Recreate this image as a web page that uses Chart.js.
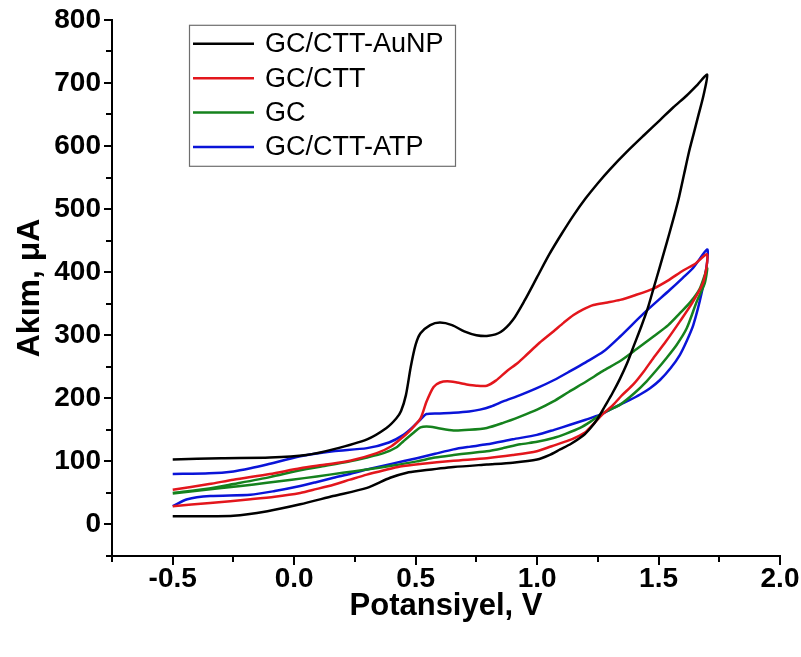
<!DOCTYPE html>
<html><head><meta charset="utf-8">
<script src="https://cdn.jsdelivr.net/npm/chart.js@4.4.0/dist/chart.umd.min.js"></script>
<style>html,body{margin:0;padding:0;background:#fff}</style>
</head><body>
<canvas id="c" width="801" height="657"></canvas>
<script>
// ---- data (potential V, current µA), full loop: forward branch then reverse branch ----
const seriesNames = ["GC/CTT-AuNP", "GC/CTT", "GC", "GC/CTT-ATP"];
const seriesColors = ["#000000", "#e3161c", "#15821d", "#0a14d8"];

const auV = [-0.5,-0.3,-0.1,0.05,0.16,0.30,0.38,0.42,0.44,0.46,0.48,0.50,0.52,0.56,0.60,0.65,0.70,0.75,0.80,0.85,0.90,0.95,1.0,1.05,1.1,1.15,1.2,1.25,1.3,1.37,1.44,1.506,1.56,1.616,1.66,1.70,
  1.685,1.665,1.645,1.625,1.605,1.585,1.565,1.545,1.525,1.505,1.48,1.455,1.43,1.40,1.37,1.34,1.31,1.28,1.25,1.22,1.19,1.14,1.095,1.05,1.0,0.9,0.793,0.656,0.52,0.464,0.395,0.30,0.16,0.025,-0.11,-0.25,-0.5];
const auI = [103,105,106,110,119,135,153,168,180,205,250,285,303,316,320,316,306,300,299,305,324,356,392,428,460,490,517,541,563,591,617,641,661,680,697,713,
  680,650,620,590,555,520,490,462,435,408,375,342,315,285,255,230,208,188,168,153,141,128,119,110,103,98,95,91,85,82,74,58,45,32,21,14,13];

const cttV = [-0.5,-0.35,-0.25,-0.1,0.025,0.13,0.23,0.34,0.40,0.44,0.48,0.52,0.545,0.574,0.60,0.63,0.67,0.71,0.75,0.793,0.83,0.875,0.92,0.957,1.01,1.067,1.11,1.15,1.19,1.232,1.29,1.342,1.40,1.479,1.54,1.603,1.65,1.70,
  1.685,1.64,1.588,1.53,1.479,1.44,1.396,1.35,1.314,1.26,1.204,1.16,1.122,1.06,0.999,0.9,0.793,0.656,0.519,0.436,0.37,0.299,0.23,0.162,0.09,0.025,-0.08,-0.18,-0.346,-0.5];
const cttI = [55,64,71,80,89,95,101,113,124,136,150,168,195,218,225,227,225,222,220,220,228,243,256,269,288,306,320,332,341,348,352,356,363,374,387,403,413,428,
  385,352,322,290,264,243,222,205,190,171,148,138,132,124,116,110,105,101,96,92,86,79,71,63,56,50,44,40,34,29];

const gcV = [-0.5,-0.35,-0.25,-0.1,0.025,0.13,0.23,0.30,0.368,0.42,0.45,0.49,0.52,0.56,0.60,0.656,0.72,0.793,0.86,0.93,1.0,1.067,1.13,1.204,1.27,1.342,1.41,1.479,1.54,1.588,1.63,1.67,1.70,
  1.69,1.657,1.616,1.575,1.533,1.49,1.451,1.40,1.342,1.30,1.26,1.22,1.177,1.12,1.067,1.0,0.93,0.86,0.793,0.72,0.656,0.58,0.505,0.40,0.299,0.2,0.093,-0.01,-0.112,-0.22,-0.318,-0.5];
const gcI = [50,57,64,75,86,93,100,106,113,122,132,145,154,155,152,149,150,153,161,171,182,195,210,227,243,259,278,298,316,335,352,374,406,
  382,353,311,285,264,244,227,208,190,182,174,163,153,144,137,131,127,121,116,113,110,106,100,93,87,82,76,71,66,61,57,49];

const atpV = [-0.5,-0.35,-0.25,-0.18,-0.112,0.025,0.16,0.30,0.39,0.45,0.49,0.519,0.545,0.60,0.656,0.72,0.765,0.81,0.86,0.93,0.999,1.07,1.136,1.20,1.273,1.342,1.44,1.547,1.60,1.643,1.70,
  1.70,1.678,1.643,1.615,1.588,1.55,1.506,1.465,1.424,1.38,1.342,1.30,1.26,1.20,1.136,1.07,0.999,0.9,0.793,0.72,0.656,0.58,0.505,0.40,0.299,0.23,0.162,0.09,0.025,-0.08,-0.18,-0.346,-0.44,-0.5];
const atpI = [80,81,84,89,95,108,116,121,130,142,155,166,175,176,177,179,182,187,195,205,216,229,243,257,274,298,335,372,391,407,436,
  416,368,316,290,269,248,229,216,206,197,190,182,174,166,158,150,142,135,127,123,119,112,105,96,87,80,74,67,61,53,47,45,40,29];

// ---- axes ----
const xTickValues = [-0.5, 0.0, 0.5, 1.0, 1.5, 2.0];
const xMinorTicks = [-0.75, -0.25, 0.25, 0.75, 1.25, 1.75];
const yTickValues = [0, 100, 200, 300, 400, 500, 600, 700, 800];
const yMinorTicks = [-50, 50, 150, 250, 350, 450, 550, 650, 750];
const xTitle = "Potansiyel, V";
const yTitle = "Akım, μA";

function pts(v, i) { return v.map((x, k) => ({ x: x, y: i[k] })); }
const seriesData = [pts(auV, auI), pts(cttV, cttI), pts(gcV, gcI), pts(atpV, atpI)];

const FONT = "'Liberation Sans', Arial, sans-serif";

const minorTicks = {
  id: 'minorTicks',
  afterDraw(chart) {
    const ctx = chart.ctx, xs = chart.scales.x, ys = chart.scales.y;
    ctx.save();
    ctx.strokeStyle = '#000'; ctx.lineWidth = 2;
    ctx.beginPath();
    xMinorTicks.forEach(v => { const p = Math.round(xs.getPixelForValue(v)); ctx.moveTo(p, xs.top); ctx.lineTo(p, xs.top + 6); });
    yMinorTicks.forEach(v => { const p = Math.round(ys.getPixelForValue(v)); ctx.moveTo(ys.right, p); ctx.lineTo(ys.right - 6, p); });
    ctx.stroke();
    ctx.restore();
  }
};

const boxLegend = {
  id: 'boxLegend',
  afterDraw(chart) {
    const ctx = chart.ctx, a = chart.chartArea;
    const left = a.left + 77, top = a.top + 5, w = 266, h = 141;
    ctx.save();
    ctx.strokeStyle = '#6e6e6e'; ctx.lineWidth = 1.2;
    ctx.strokeRect(left + 0.5, top + 0.5, w, h);
    ctx.font = "27px " + FONT;
    ctx.textBaseline = 'middle';
    ctx.fillStyle = '#000';
    chart.data.datasets.forEach((ds, i) => {
      const y = top + 19 + i * 34.4;
      ctx.strokeStyle = ds.borderColor; ctx.lineWidth = 2.5;
      ctx.beginPath(); ctx.moveTo(left + 4, y); ctx.lineTo(left + 65, y); ctx.stroke();
      ctx.fillText(ds.label, left + 76, y + 1);
    });
    ctx.restore();
  }
};

new Chart(document.getElementById('c'), {
  type: 'scatter',
  data: {
    datasets: seriesNames.map((n, i) => ({
      label: n,
      data: seriesData[i],
      showLine: true,
      borderColor: seriesColors[i],
      backgroundColor: seriesColors[i],
      borderWidth: 2.5,
      pointRadius: 0,
      tension: 0.25,
      fill: false
    }))
  },
  options: {
    responsive: false,
    animation: false,
    devicePixelRatio: 1,
    layout: { padding: { top: 18, right: 21, left: 0, bottom: 0 } },
    plugins: { legend: { display: false }, tooltip: { enabled: false } },
    scales: {
      x: {
        type: 'linear', min: -0.75, max: 2.0,
        afterBuildTicks: s => { s.ticks = xTickValues.map(v => ({ value: v })); },
        afterFit: s => { s.height = 101; },
        ticks: { color: '#000', font: { family: FONT, size: 28, weight: 'bold' }, padding: -3,
                 callback: v => Number(v).toFixed(1), maxRotation: 0, autoSkip: false },
        grid: { drawOnChartArea: false, color: '#000', lineWidth: 2, tickLength: 9 },
        border: { color: '#000', width: 2 },
        title: { display: true, text: xTitle, color: '#000',
                 font: { family: FONT, size: 31, weight: 'bold', lineHeight: 1.2 },
                 padding: { top: 0, bottom: 32 } }
      },
      y: {
        type: 'linear', min: -50, max: 800,
        afterBuildTicks: s => { s.ticks = yTickValues.map(v => ({ value: v })); },
        afterFit: s => { s.width = 112; },
        ticks: { color: '#000', font: { family: FONT, size: 28, weight: 'bold' }, padding: 3, autoSkip: false },
        grid: { drawOnChartArea: false, color: '#000', lineWidth: 2, tickLength: 8 },
        border: { color: '#000', width: 2 },
        title: { display: true, text: yTitle, color: '#000',
                 font: { family: FONT, size: 32, weight: 'bold', lineHeight: 1.2 },
                 padding: { top: 11, bottom: 0 } }
      }
    }
  },
  plugins: [minorTicks, boxLegend]
});
</script>
</body></html>
